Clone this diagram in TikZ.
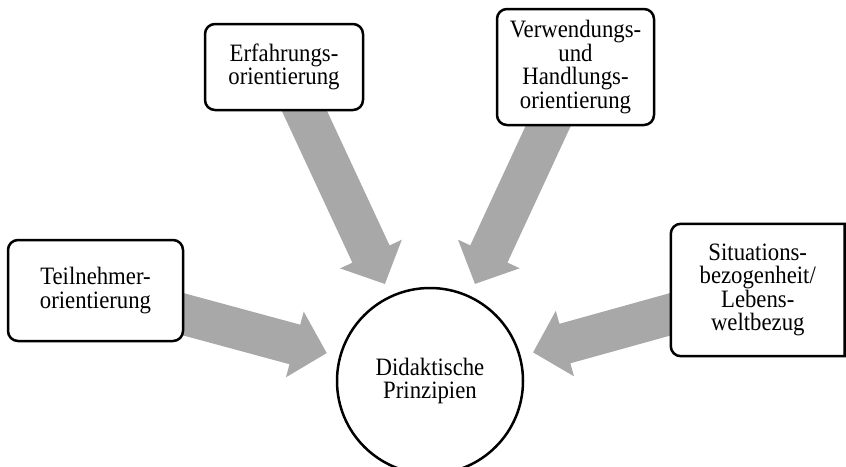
\documentclass[tikz,border=0pt]{standalone}
\usepackage{fontspec}
\setmainfont{Liberation Serif}[FakeStretch=0.91]
\usetikzlibrary{calc,backgrounds}
\definecolor{arrowgray}{RGB}{168,168,168}
\tikzset{
  labelfont/.style={font=\fontsize{25}{23.5}\selectfont},
  box/.style={draw=black, line width=2.5pt, fill=white, rounded corners=10pt,
    align=center, inner sep=0pt, labelfont},
  plainbox/.style={fill=white, align=center, inner sep=0pt, labelfont},
  hub/.style={draw=black, circle, line width=2.5pt, fill=white,
    minimum size=186pt, inner sep=0pt, align=center, labelfont},
  fatfill/.style={fill=arrowgray},
}
% Broad block arrow from the centre of node #1 towards the centre of node #2;
% the tip stops 107pt short of the centre of #2.
\newcommand\fatarrow[2]{%
  \coordinate (fa-tip) at ($(#2.center)!107pt!(#1.center)$);
  \coordinate (fa-base) at ($(#2.center)!140pt!(#1.center)$);
  \fill[fatfill]
    ($(#1.center)!20.5pt!90:(fa-tip)$) --
    ($(fa-base)!20.5pt!90:(fa-tip)$) --
    ($(fa-base)!34pt!90:(fa-tip)$) --
    (fa-tip) --
    ($(fa-base)!34pt!-90:(fa-tip)$) --
    ($(fa-base)!20.5pt!-90:(fa-tip)$) --
    ($(#1.center)!20.5pt!-90:(fa-tip)$) -- cycle;
}
\begin{document}
\begin{tikzpicture}[x=1pt, y=-1pt]
  \useasboundingbox (0,0) rectangle (846,466);
  \clip (0,0) rectangle (846,466);

  % centre circle
  \node[hub] (hub) at (430,381) {Didaktische\\Prinzipien};

  % surrounding principles
  \node[box, minimum width=175pt, minimum height=101pt] (teil) at (95.5,290.5)
    {Teilnehmer-\\orientierung};
  \node[box, minimum width=158pt, minimum height=86pt] (erf) at (284,67)
    {Erfahrungs-\\orientierung};
  \node[box, minimum width=157pt, minimum height=116pt] (verw) at (575.5,67)
    {Verwendungs-\\und\\Handlungs-\\orientierung};
  \node[plainbox, minimum width=173.5pt, minimum height=132pt] (sit) at (757.75,290)
    {Situations-\\bezogenheit/\\Lebens-\\weltbezug};
  % border of the last box, with square corners on its right side
  \draw[line width=2.5pt]
    (sit.north east) -- ([xshift=10pt]sit.north west)
    arc[start angle=90, end angle=180, radius=10pt]
    -- ([yshift=10pt]sit.south west)
    arc[start angle=180, end angle=270, radius=10pt]
    -- (sit.south east) -- cycle;

  % block arrows, behind the boxes
  \begin{scope}[on background layer]
    \fatarrow{teil}{hub}
    \fatarrow{erf}{hub}
    \fatarrow{verw}{hub}
    \fatarrow{sit}{hub}
  \end{scope}
\end{tikzpicture}
\end{document}
